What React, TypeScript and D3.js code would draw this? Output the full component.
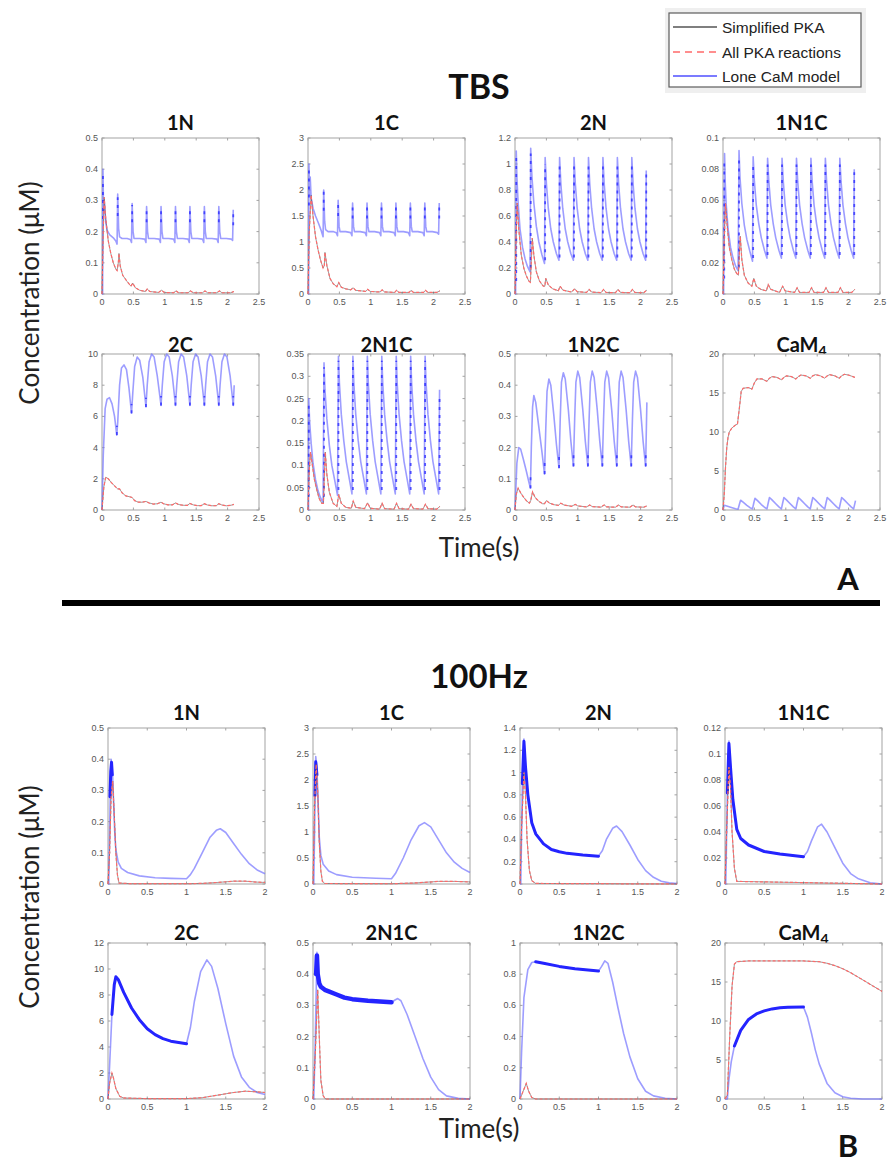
import React from 'react';
import * as d3 from 'd3';

type P = [number, number];
type Seg = [number, number, number];

// ---------------- tick labels ----------------
const TBS_X_TICKS = [0, 0.5, 1, 1.5, 2, 2.5];
const HZ_X_TICKS = [0, 0.5, 1, 1.5, 2];
const Y_1N = [0, 0.1, 0.2, 0.3, 0.4, 0.5];
const Y_1C = [0, 0.5, 1, 1.5, 2, 2.5, 3];
const Y_2N_TBS = [0, 0.2, 0.4, 0.6, 0.8, 1, 1.2];
const Y_2N_HZ = [0, 0.2, 0.4, 0.6, 0.8, 1, 1.2, 1.4];
const Y_1N1C_TBS = [0, 0.02, 0.04, 0.06, 0.08, 0.1];
const Y_1N1C_HZ = [0, 0.02, 0.04, 0.06, 0.08, 0.1, 0.12];
const Y_2C_TBS = [0, 2, 4, 6, 8, 10];
const Y_2C_HZ = [0, 2, 4, 6, 8, 10, 12];
const Y_2N1C_TBS = [0, 0.05, 0.1, 0.15, 0.2, 0.25, 0.3, 0.35];
const Y_2N1C_HZ = [0, 0.1, 0.2, 0.3, 0.4, 0.5];
const Y_1N2C_TBS = [0, 0.1, 0.2, 0.3, 0.4, 0.5];
const Y_1N2C_HZ = [0, 0.2, 0.4, 0.6, 0.8, 1];
const Y_CAM4 = [0, 5, 10, 15, 20];

const LEGEND_LABELS = ['Simplified PKA', 'All PKA reactions', 'Lone CaM model'];

// ---------------- TBS data ----------------
const tbs1N_blue: P[] = [
  [0,0],[0.01,0],[0.015,0.4],[0.025,0.26],[0.035,0.3],[0.045,0.27],[0.06,0.23],[0.08,0.205],[0.12,0.19],[0.18,0.18],[0.22,0.17],[0.24,0.16],
  [0.25,0.32],[0.265,0.21],[0.28,0.183],[0.32,0.178],[0.4,0.178],[0.45,0.175],[0.47,0.165],
  [0.48,0.29],[0.495,0.2],[0.51,0.178],[0.6,0.178],[0.68,0.176],[0.7,0.165],
  [0.71,0.28],[0.725,0.2],[0.74,0.178],[0.83,0.178],[0.91,0.176],[0.93,0.165],
  [0.94,0.28],[0.955,0.2],[0.97,0.178],[1.06,0.178],[1.14,0.176],[1.16,0.165],
  [1.17,0.28],[1.185,0.2],[1.2,0.178],[1.29,0.178],[1.37,0.176],[1.39,0.165],
  [1.4,0.28],[1.415,0.2],[1.43,0.178],[1.52,0.178],[1.6,0.176],[1.62,0.165],
  [1.63,0.28],[1.645,0.2],[1.66,0.178],[1.75,0.178],[1.83,0.176],[1.85,0.165],
  [1.86,0.28],[1.875,0.2],[1.89,0.178],[1.98,0.178],[2.06,0.176],[2.08,0.172],
  [2.09,0.27]];
const tbs1N_burst: Seg[] = [[0.015,0.24,0.39],[0.25,0.25,0.31],[0.48,0.23,0.285],[0.71,0.23,0.275],[0.94,0.23,0.275],[1.17,0.23,0.275],[1.4,0.23,0.275],[1.63,0.23,0.275],[1.86,0.23,0.275],[2.09,0.22,0.27]];
const tbs1N_pka: P[] = [
  [0,0],[0.02,0.2],[0.035,0.31],[0.06,0.24],[0.1,0.17],[0.14,0.13],[0.18,0.1],[0.22,0.08],[0.24,0.075],[0.26,0.1],[0.27,0.13],[0.29,0.09],[0.33,0.06],[0.4,0.04],[0.46,0.025],[0.49,0.035],[0.53,0.02],[0.6,0.012],[0.69,0.008],[0.72,0.016],[0.76,0.008],[0.9,0.005],[0.95,0.012],[0.99,0.005],[1.14,0.004],[1.18,0.01],[1.22,0.004],[1.37,0.004],[1.41,0.01],[1.45,0.004],[1.6,0.004],[1.64,0.01],[1.68,0.004],[1.83,0.004],[1.87,0.01],[1.91,0.004],[2.05,0.004],[2.1,0.008]];

const tbs1C_blue: P[] = [
  [0,0],[0.01,0],[0.015,2.5],[0.025,1.9],[0.035,2.25],[0.05,1.85],[0.08,1.65],[0.12,1.5],[0.17,1.35],[0.21,1.22],[0.24,1.1],
  [0.25,2.0],[0.265,1.4],[0.28,1.24],[0.32,1.2],[0.4,1.2],[0.45,1.18],[0.47,1.12],
  [0.48,1.8],[0.495,1.3],[0.51,1.2],[0.6,1.2],[0.68,1.18],[0.7,1.12],
  [0.71,1.75],[0.725,1.3],[0.74,1.2],[0.83,1.2],[0.91,1.18],[0.93,1.12],
  [0.94,1.75],[0.955,1.3],[0.97,1.2],[1.06,1.2],[1.14,1.18],[1.16,1.12],
  [1.17,1.75],[1.185,1.3],[1.2,1.2],[1.29,1.2],[1.37,1.18],[1.39,1.12],
  [1.4,1.75],[1.415,1.3],[1.43,1.2],[1.52,1.2],[1.6,1.18],[1.62,1.12],
  [1.63,1.75],[1.645,1.3],[1.66,1.2],[1.75,1.2],[1.83,1.18],[1.85,1.12],
  [1.86,1.75],[1.875,1.3],[1.89,1.2],[1.98,1.2],[2.06,1.18],[2.08,1.15],
  [2.09,1.75]];
const tbs1C_burst: Seg[] = [[0.015,1.7,2.4],[0.25,1.6,2.0],[0.48,1.5,1.8],[0.71,1.45,1.75],[0.94,1.45,1.75],[1.17,1.45,1.75],[1.4,1.45,1.75],[1.63,1.45,1.75],[1.86,1.45,1.75],[2.09,1.45,1.75]];
const tbs1C_pka: P[] = [
  [0,0],[0.02,1.2],[0.05,1.9],[0.08,1.5],[0.12,1.1],[0.16,0.85],[0.2,0.65],[0.24,0.5],[0.26,0.55],[0.27,0.8],[0.3,0.55],[0.35,0.3],[0.4,0.2],[0.46,0.14],[0.49,0.22],[0.53,0.13],[0.6,0.1],[0.68,0.08],[0.72,0.12],[0.76,0.07],[0.85,0.06],[0.92,0.05],[0.95,0.09],[0.99,0.05],[1.1,0.04],[1.15,0.04],[1.18,0.08],[1.22,0.04],[1.38,0.03],[1.41,0.07],[1.45,0.03],[1.61,0.03],[1.64,0.07],[1.68,0.03],[1.84,0.03],[1.87,0.07],[1.91,0.03],[2.05,0.03],[2.1,0.06]];

const tbs2N_blue: P[] = [
  [0,0],[0.01,0],[0.02,1.1],[0.03,0.9],[0.05,0.7],[0.08,0.5],[0.12,0.36],[0.16,0.27],[0.2,0.21],[0.24,0.17],
  [0.25,1.12],[0.27,0.9],[0.3,0.7],[0.34,0.52],[0.38,0.4],[0.43,0.3],[0.47,0.235],
  [0.48,1.05],[0.5,0.85],[0.53,0.66],[0.57,0.5],[0.61,0.4],[0.66,0.31],[0.7,0.26],
  [0.71,1.05],[0.73,0.85],[0.76,0.66],[0.8,0.5],[0.84,0.4],[0.89,0.31],[0.93,0.26],
  [0.94,1.05],[0.96,0.85],[0.99,0.66],[1.03,0.5],[1.07,0.4],[1.12,0.31],[1.16,0.26],
  [1.17,1.05],[1.19,0.85],[1.22,0.66],[1.26,0.5],[1.3,0.4],[1.35,0.31],[1.39,0.26],
  [1.4,1.05],[1.42,0.85],[1.45,0.66],[1.49,0.5],[1.53,0.4],[1.58,0.31],[1.62,0.26],
  [1.63,1.05],[1.65,0.85],[1.68,0.66],[1.72,0.5],[1.76,0.4],[1.81,0.31],[1.85,0.26],
  [1.86,1.05],[1.88,0.85],[1.91,0.66],[1.95,0.5],[1.99,0.4],[2.04,0.31],[2.08,0.26],
  [2.09,0.95]];
const tbs2N_burst: Seg[] = [[0.02,0.1,1.05],[0.25,0.2,1.08],[0.48,0.26,1.0],[0.71,0.28,1.0],[0.94,0.28,1.0],[1.17,0.28,1.0],[1.4,0.28,1.0],[1.63,0.28,1.0],[1.86,0.28,1.0],[2.09,0.28,0.92]];
const tbs2N_pka: P[] = [
  [0,0],[0.015,0.4],[0.035,0.7],[0.06,0.5],[0.1,0.3],[0.14,0.2],[0.18,0.14],[0.22,0.1],[0.245,0.09],[0.26,0.25],[0.275,0.43],[0.3,0.3],[0.34,0.17],[0.39,0.1],[0.45,0.06],[0.475,0.06],[0.49,0.12],[0.53,0.07],[0.6,0.04],[0.69,0.025],[0.72,0.06],[0.76,0.03],[0.9,0.015],[0.95,0.04],[0.99,0.018],[1.14,0.012],[1.18,0.035],[1.22,0.015],[1.37,0.01],[1.41,0.035],[1.45,0.012],[1.6,0.01],[1.64,0.035],[1.68,0.012],[1.83,0.01],[1.87,0.035],[1.91,0.012],[2.05,0.01],[2.1,0.03]];

const tbs1N1C_blue: P[] = [
  [0,0],[0.01,0],[0.025,0.09],[0.035,0.072],[0.05,0.058],[0.08,0.042],[0.12,0.03],[0.16,0.023],[0.2,0.018],[0.24,0.015],
  [0.255,0.092],[0.27,0.075],[0.3,0.058],[0.34,0.044],[0.38,0.035],[0.43,0.027],[0.47,0.021],
  [0.48,0.088],[0.5,0.072],[0.53,0.057],[0.57,0.045],[0.61,0.036],[0.66,0.028],[0.7,0.023],
  [0.71,0.087],[0.73,0.072],[0.76,0.057],[0.8,0.045],[0.84,0.036],[0.89,0.028],[0.93,0.023],
  [0.94,0.087],[0.96,0.072],[0.99,0.057],[1.03,0.045],[1.07,0.036],[1.12,0.028],[1.16,0.023],
  [1.17,0.087],[1.19,0.072],[1.22,0.057],[1.26,0.045],[1.3,0.036],[1.35,0.028],[1.39,0.023],
  [1.4,0.087],[1.42,0.072],[1.45,0.057],[1.49,0.045],[1.53,0.036],[1.58,0.028],[1.62,0.023],
  [1.63,0.087],[1.65,0.072],[1.68,0.057],[1.72,0.045],[1.76,0.036],[1.81,0.028],[1.85,0.023],
  [1.86,0.087],[1.88,0.072],[1.91,0.057],[1.95,0.045],[1.99,0.036],[2.04,0.028],[2.08,0.023],
  [2.09,0.08]];
const tbs1N1C_burst: Seg[] = [[0.02,0.01,0.085],[0.255,0.017,0.088],[0.48,0.023,0.084],[0.71,0.025,0.083],[0.94,0.025,0.083],[1.17,0.025,0.083],[1.4,0.025,0.083],[1.63,0.025,0.083],[1.86,0.025,0.083],[2.09,0.025,0.078]];
const tbs1N1C_pka: P[] = [
  [0,0],[0.02,0.035],[0.04,0.058],[0.07,0.042],[0.1,0.03],[0.14,0.022],[0.18,0.016],[0.22,0.013],[0.245,0.012],[0.26,0.025],[0.275,0.037],[0.3,0.022],[0.34,0.012],[0.4,0.007],[0.46,0.005],[0.49,0.01],[0.53,0.005],[0.6,0.003],[0.69,0.002],[0.72,0.006],[0.76,0.003],[0.9,0.001],[0.95,0.005],[0.99,0.002],[1.14,0.001],[1.18,0.004],[1.22,0.001],[1.37,0.001],[1.41,0.004],[1.45,0.001],[1.6,0.001],[1.64,0.004],[1.68,0.001],[1.83,0.001],[1.87,0.004],[1.91,0.001],[2.05,0.001],[2.1,0.003]];

const tbs2C_blue: P[] = [
  [0,0],[0.02,3.5],[0.05,6.5],[0.08,7.1],[0.12,7.2],[0.16,6.8],[0.2,6.0],[0.235,4.8],
  [0.25,5.6],[0.28,8.0],[0.31,9.1],[0.35,9.3],[0.39,9.0],[0.43,7.8],[0.47,6.2],
  [0.49,7.5],[0.52,9.2],[0.56,9.8],[0.6,9.6],[0.65,8.5],[0.7,6.6],
  [0.72,8.0],[0.75,9.5],[0.79,10.0],[0.83,9.8],[0.88,8.6],[0.94,6.7],
  [0.96,8.0],[0.99,9.5],[1.03,10.0],[1.07,9.8],[1.12,8.6],[1.17,6.7],
  [1.19,8.0],[1.22,9.5],[1.26,10.0],[1.3,9.8],[1.35,8.6],[1.4,6.7],
  [1.42,8.0],[1.45,9.5],[1.49,10.0],[1.53,9.8],[1.58,8.6],[1.63,6.7],
  [1.65,8.0],[1.68,9.5],[1.72,10.0],[1.76,9.8],[1.81,8.6],[1.86,6.7],
  [1.88,8.0],[1.91,9.5],[1.95,10.0],[1.99,9.8],[2.04,8.6],[2.09,6.7],
  [2.105,8.0]];
const tbs2C_burst: Seg[] = [[0.237,4.8,5.4],[0.47,6.2,6.8],[0.7,6.6,7.2],[0.94,6.7,7.3],[1.17,6.7,7.3],[1.4,6.7,7.3],[1.63,6.7,7.3],[1.86,6.7,7.3],[2.09,6.7,7.3]];
const tbs2C_pka: P[] = [
  [0,0],[0.03,1.5],[0.06,2.1],[0.1,2.0],[0.15,1.75],[0.2,1.55],[0.25,1.35],[0.28,1.35],[0.32,1.1],[0.38,0.9],[0.44,0.85],[0.48,0.8],[0.52,0.6],[0.58,0.5],[0.64,0.5],[0.7,0.55],[0.75,0.45],[0.82,0.38],[0.88,0.4],[0.94,0.5],[0.98,0.4],[1.05,0.33],[1.12,0.33],[1.17,0.45],[1.22,0.35],[1.3,0.3],[1.36,0.3],[1.4,0.42],[1.45,0.33],[1.52,0.28],[1.58,0.28],[1.63,0.4],[1.68,0.32],[1.75,0.27],[1.82,0.28],[1.86,0.4],[1.91,0.32],[1.98,0.27],[2.05,0.3],[2.1,0.36]];

const tbs2N1C_blue: P[] = [
  [0,0],[0.008,0],[0.012,0.25],[0.025,0.2],[0.05,0.15],[0.08,0.105],[0.12,0.068],[0.16,0.043],[0.2,0.027],[0.24,0.016],
  [0.255,0.33],[0.27,0.27],[0.3,0.205],[0.34,0.145],[0.38,0.1],[0.43,0.063],[0.47,0.033],
  [0.485,0.345],[0.5,0.285],[0.53,0.215],[0.57,0.155],[0.61,0.108],[0.66,0.068],[0.7,0.036],
  [0.715,0.345],[0.73,0.285],[0.76,0.215],[0.8,0.155],[0.84,0.108],[0.89,0.068],[0.93,0.036],
  [0.945,0.345],[0.96,0.285],[0.99,0.215],[1.03,0.155],[1.07,0.108],[1.12,0.068],[1.16,0.036],
  [1.175,0.345],[1.19,0.285],[1.22,0.215],[1.26,0.155],[1.3,0.108],[1.35,0.068],[1.39,0.036],
  [1.405,0.345],[1.42,0.285],[1.45,0.215],[1.49,0.155],[1.53,0.108],[1.58,0.068],[1.62,0.036],
  [1.635,0.345],[1.65,0.285],[1.68,0.215],[1.72,0.155],[1.76,0.108],[1.81,0.068],[1.85,0.036],
  [1.865,0.345],[1.88,0.285],[1.91,0.215],[1.95,0.155],[1.99,0.108],[2.04,0.068],[2.08,0.036],
  [2.095,0.27]];
const tbs2N1C_burst: Seg[] = [[0.012,0.03,0.24],[0.255,0.03,0.32],[0.485,0.045,0.335],[0.715,0.045,0.335],[0.945,0.045,0.335],[1.175,0.045,0.335],[1.405,0.045,0.335],[1.635,0.045,0.335],[1.865,0.045,0.335],[2.095,0.045,0.26]];
const tbs2N1C_pka: P[] = [
  [0,0],[0.02,0.09],[0.04,0.13],[0.07,0.1],[0.1,0.07],[0.14,0.045],[0.18,0.025],[0.22,0.015],[0.245,0.015],[0.26,0.07],[0.275,0.13],[0.3,0.08],[0.34,0.04],[0.4,0.015],[0.46,0.008],[0.49,0.035],[0.53,0.015],[0.6,0.006],[0.69,0.004],[0.72,0.02],[0.76,0.006],[0.9,0.003],[0.95,0.016],[0.99,0.004],[1.14,0.002],[1.18,0.015],[1.22,0.003],[1.37,0.002],[1.41,0.015],[1.45,0.003],[1.6,0.002],[1.64,0.013],[1.68,0.003],[1.83,0.002],[1.87,0.013],[1.91,0.003],[2.05,0.002],[2.1,0.008]];

const tbs1N2C_blue: P[] = [
  [0,0],[0.03,0.15],[0.06,0.2],[0.09,0.195],[0.13,0.165],[0.18,0.125],[0.22,0.09],[0.245,0.07],
  [0.26,0.2],[0.28,0.33],[0.3,0.367],[0.33,0.345],[0.38,0.265],[0.43,0.185],[0.47,0.115],
  [0.49,0.26],[0.51,0.38],[0.54,0.42],[0.57,0.4],[0.62,0.3],[0.66,0.21],[0.7,0.135],
  [0.72,0.29],[0.74,0.41],[0.77,0.44],[0.8,0.42],[0.85,0.32],[0.89,0.22],[0.93,0.14],
  [0.95,0.29],[0.97,0.41],[1.0,0.445],[1.03,0.425],[1.08,0.32],[1.12,0.22],[1.16,0.14],
  [1.18,0.29],[1.2,0.41],[1.23,0.445],[1.26,0.425],[1.31,0.32],[1.35,0.22],[1.39,0.14],
  [1.41,0.29],[1.43,0.41],[1.46,0.445],[1.49,0.425],[1.54,0.32],[1.58,0.22],[1.62,0.14],
  [1.64,0.29],[1.66,0.41],[1.69,0.445],[1.72,0.425],[1.77,0.32],[1.81,0.22],[1.85,0.14],
  [1.87,0.29],[1.89,0.41],[1.92,0.445],[1.95,0.425],[2.0,0.32],[2.04,0.22],[2.08,0.14],
  [2.1,0.345]];
const tbs1N2C_burst: Seg[] = [[0.247,0.07,0.11],[0.472,0.115,0.16],[0.702,0.135,0.18],[0.932,0.14,0.185],[1.162,0.14,0.185],[1.392,0.14,0.185],[1.622,0.14,0.185],[1.852,0.14,0.185],[2.082,0.14,0.185]];
const tbs1N2C_pka: P[] = [
  [0,0],[0.02,0.05],[0.05,0.07],[0.09,0.055],[0.14,0.04],[0.19,0.028],[0.23,0.022],[0.25,0.03],[0.28,0.058],[0.32,0.04],[0.38,0.028],[0.44,0.02],[0.47,0.02],[0.5,0.03],[0.55,0.022],[0.62,0.017],[0.69,0.015],[0.73,0.022],[0.78,0.016],[0.9,0.012],[0.96,0.018],[1.0,0.013],[1.14,0.01],[1.19,0.016],[1.23,0.011],[1.37,0.009],[1.42,0.016],[1.46,0.01],[1.6,0.009],[1.65,0.016],[1.69,0.01],[1.83,0.009],[1.88,0.016],[1.92,0.01],[2.05,0.009],[2.1,0.013]];

const tbsCaM4_blue: P[] = [
  [0,0],[0.02,0.6],[0.06,0.5],[0.12,0.35],[0.2,0.15],[0.24,0.1],
  [0.26,0.7],[0.28,1.25],[0.32,1.0],[0.38,0.6],[0.43,0.3],[0.47,0.15],
  [0.49,0.9],[0.51,1.5],[0.55,1.2],[0.61,0.7],[0.66,0.35],[0.7,0.15],
  [0.72,0.9],[0.74,1.6],[0.78,1.3],[0.84,0.8],[0.89,0.4],[0.93,0.15],
  [0.95,0.9],[0.97,1.6],[1.01,1.3],[1.07,0.8],[1.12,0.4],[1.16,0.15],
  [1.18,0.9],[1.2,1.6],[1.24,1.3],[1.3,0.8],[1.35,0.4],[1.39,0.15],
  [1.41,0.9],[1.43,1.6],[1.47,1.3],[1.53,0.8],[1.58,0.4],[1.62,0.15],
  [1.64,0.9],[1.66,1.6],[1.7,1.3],[1.76,0.8],[1.81,0.4],[1.85,0.15],
  [1.87,0.9],[1.89,1.6],[1.93,1.3],[1.99,0.8],[2.04,0.4],[2.08,0.15],
  [2.11,1.2]];
const tbsCaM4_pka: P[] = [
  [0,0],[0.02,2],[0.04,5.5],[0.06,8],[0.08,9.3],[0.1,10],[0.14,10.5],[0.2,10.9],[0.23,11],[0.26,13],[0.29,15.2],[0.32,15.6],[0.4,15.7],[0.46,15.5],[0.5,16.3],[0.54,16.8],[0.62,16.8],[0.7,16.5],[0.74,16.9],[0.78,17.1],[0.86,17.0],[0.93,16.7],[0.97,17.0],[1.01,17.2],[1.09,17.1],[1.16,16.8],[1.2,17.1],[1.24,17.3],[1.32,17.2],[1.39,16.9],[1.43,17.2],[1.47,17.35],[1.55,17.2],[1.62,16.9],[1.66,17.2],[1.7,17.35],[1.78,17.2],[1.85,16.9],[1.89,17.2],[1.93,17.4],[2.0,17.3],[2.1,17.0]];

// ---------------- 100 Hz data ----------------
const hz1N_blue: P[] = [[0,0],[0.01,0],[0.02,0.17],[0.03,0.3],[0.04,0.4],[0.05,0.37],[0.06,0.34],[0.07,0.27],[0.085,0.17],[0.1,0.11],[0.13,0.07],[0.17,0.05],[0.25,0.037],[0.4,0.026],[0.6,0.02],[0.8,0.018],[1.0,0.017],[1.05,0.03],[1.1,0.05],[1.2,0.1],[1.3,0.15],[1.38,0.172],[1.43,0.177],[1.5,0.165],[1.6,0.13],[1.7,0.095],[1.8,0.065],[1.9,0.045],[2.0,0.033]];
const hz1N_band: P[] = [[0.025,0.28],[0.035,0.36],[0.045,0.39],[0.055,0.35]];
const hz1N_pka: P[] = [[0,0],[0.02,0.1],[0.04,0.28],[0.06,0.33],[0.08,0.22],[0.1,0.1],[0.12,0.03],[0.14,0.003],[0.3,0.001],[1.0,0.001],[1.2,0.002],[1.4,0.005],[1.6,0.009],[1.75,0.009],[1.9,0.006],[2.0,0.005]];

const hz1C_blue: P[] = [[0,0],[0.01,0],[0.02,1.0],[0.035,2.45],[0.05,2.2],[0.06,1.8],[0.08,0.9],[0.1,0.55],[0.13,0.38],[0.2,0.25],[0.3,0.18],[0.5,0.13],[0.8,0.11],[1.0,0.1],[1.05,0.2],[1.15,0.5],[1.25,0.85],[1.35,1.12],[1.42,1.18],[1.5,1.1],[1.6,0.85],[1.7,0.6],[1.8,0.42],[1.9,0.3],[2.0,0.22]];
const hz1C_band: P[] = [[0.025,1.7],[0.035,2.35],[0.05,2.1]];
const hz1C_pka: P[] = [[0,0],[0.02,1.5],[0.04,2.3],[0.06,1.8],[0.08,0.8],[0.1,0.25],[0.12,0.05],[0.15,0.01],[1.0,0.005],[1.3,0.02],[1.6,0.05],[1.8,0.05],[2.0,0.04]];

const hz2N_blue: P[] = [[0,0],[0.01,0],[0.03,0.9],[0.05,1.3],[0.07,1.05],[0.1,0.8],[0.15,0.55],[0.2,0.45],[0.3,0.36],[0.4,0.31],[0.5,0.29],[0.6,0.275],[0.8,0.26],[1.0,0.25],[1.05,0.3],[1.1,0.4],[1.18,0.5],[1.23,0.52],[1.3,0.47],[1.4,0.35],[1.5,0.22],[1.6,0.12],[1.7,0.06],[1.8,0.025],[1.9,0.01],[2.0,0.005]];
const hz2N_band: P[] = [[0.03,0.9],[0.05,1.28],[0.07,1.05],[0.1,0.8],[0.15,0.55],[0.2,0.45],[0.3,0.36],[0.4,0.31],[0.5,0.29],[0.6,0.275],[0.8,0.26],[1.0,0.25]];
const hz2N_pka: P[] = [[0,0],[0.02,0.5],[0.05,1.0],[0.07,0.8],[0.09,0.4],[0.12,0.12],[0.15,0.03],[0.2,0.005],[2.0,0]];

const hz1N1C_blue: P[] = [[0,0],[0.01,0],[0.03,0.07],[0.05,0.11],[0.07,0.09],[0.1,0.065],[0.15,0.042],[0.2,0.035],[0.3,0.03],[0.5,0.025],[0.7,0.023],[1.0,0.021],[1.05,0.025],[1.1,0.033],[1.18,0.044],[1.23,0.046],[1.3,0.04],[1.4,0.028],[1.5,0.016],[1.6,0.008],[1.7,0.004],[1.85,0.001],[2.0,0]];
const hz1N1C_band: P[] = [[0.03,0.07],[0.05,0.108],[0.07,0.09],[0.1,0.065],[0.15,0.042],[0.2,0.035],[0.3,0.03],[0.5,0.025],[0.7,0.023],[1.0,0.021]];
const hz1N1C_pka: P[] = [[0,0],[0.02,0.04],[0.05,0.09],[0.07,0.075],[0.09,0.04],[0.12,0.012],[0.15,0.002],[2.0,0]];

const hz2C_blue: P[] = [[0,0],[0.02,2.5],[0.05,6.5],[0.08,8.8],[0.1,9.4],[0.13,9.2],[0.2,8.2],[0.3,7.0],[0.4,6.1],[0.5,5.4],[0.6,4.95],[0.7,4.65],[0.8,4.45],[0.9,4.35],[1.0,4.25],[1.05,5.5],[1.1,7.5],[1.18,9.8],[1.26,10.7],[1.32,10.2],[1.4,8.5],[1.5,5.8],[1.6,3.3],[1.7,1.7],[1.8,0.9],[1.9,0.5],[2.0,0.35]];
const hz2C_band: P[] = [[0.05,6.5],[0.08,8.8],[0.1,9.4],[0.13,9.2],[0.2,8.2],[0.3,7.0],[0.4,6.1],[0.5,5.4],[0.6,4.95],[0.7,4.65],[0.8,4.45],[0.9,4.35],[1.0,4.25]];
const hz2C_pka: P[] = [[0,0],[0.02,1.2],[0.05,2.0],[0.07,1.6],[0.1,0.8],[0.15,0.2],[0.2,0.08],[0.5,0.03],[1.0,0.03],[1.2,0.1],[1.4,0.3],[1.6,0.5],[1.75,0.6],[1.9,0.55],[2.0,0.5]];

const hz2N1C_blue: P[] = [[0,0],[0.01,0],[0.03,0.2],[0.05,0.47],[0.06,0.4],[0.08,0.37],[0.1,0.36],[0.15,0.35],[0.2,0.345],[0.3,0.335],[0.4,0.325],[0.5,0.32],[0.7,0.315],[1.0,0.31],[1.05,0.318],[1.08,0.322],[1.12,0.315],[1.2,0.27],[1.3,0.2],[1.4,0.13],[1.5,0.07],[1.6,0.03],[1.7,0.01],[1.85,0.002],[2.0,0]];
const hz2N1C_band: P[] = [[0.04,0.4],[0.05,0.46],[0.06,0.4],[0.08,0.37],[0.1,0.36],[0.15,0.35],[0.2,0.345],[0.3,0.335],[0.4,0.325],[0.5,0.32],[0.7,0.315],[1.0,0.31]];
const hz2N1C_pka: P[] = [[0,0],[0.03,0.15],[0.06,0.35],[0.08,0.2],[0.1,0.06],[0.13,0.01],[0.16,0],[2.0,0]];

const hz1N2C_blue: P[] = [[0,0],[0.02,0.3],[0.05,0.65],[0.1,0.83],[0.15,0.875],[0.2,0.88],[0.3,0.87],[0.5,0.85],[0.7,0.835],[1.0,0.82],[1.04,0.85],[1.08,0.885],[1.12,0.87],[1.18,0.75],[1.25,0.58],[1.32,0.42],[1.4,0.27],[1.5,0.13],[1.6,0.05],[1.7,0.02],[1.85,0.005],[2.0,0]];
const hz1N2C_band: P[] = [[0.2,0.88],[0.3,0.87],[0.5,0.85],[0.7,0.835],[1.0,0.82]];
const hz1N2C_pka: P[] = [[0,0],[0.04,0.05],[0.08,0.1],[0.11,0.05],[0.15,0.01],[0.2,0],[2.0,0]];

const hzCaM4_blue: P[] = [[0,0],[0.03,0],[0.05,2.5],[0.08,4.8],[0.12,6.8],[0.2,8.8],[0.3,10.2],[0.4,10.9],[0.5,11.3],[0.6,11.55],[0.7,11.7],[0.8,11.75],[1.0,11.8],[1.05,10.5],[1.1,8.5],[1.15,6.3],[1.2,4.5],[1.3,2.0],[1.4,0.8],[1.5,0.3],[1.6,0.1],[1.75,0],[2.0,0]];
const hzCaM4_band: P[] = [[0.12,6.8],[0.2,8.8],[0.3,10.2],[0.4,10.9],[0.5,11.3],[0.6,11.55],[0.7,11.7],[0.8,11.75],[1.0,11.8]];
const hzCaM4_pka: P[] = [[0,0],[0.03,0.5],[0.06,8],[0.09,14.5],[0.12,17.3],[0.15,17.6],[0.3,17.7],[0.6,17.7],[1.0,17.7],[1.2,17.6],[1.3,17.4],[1.4,17.1],[1.5,16.7],[1.6,16.2],[1.7,15.6],[1.8,15.0],[1.9,14.4],[2.0,13.8]];

// ---------------- layout ----------------
const TBS_COLS = [102, 308, 515, 723];
const TBS_ROWS = [138, 354];
const HZ_COLS = [108, 313, 520, 725];
const HZ_ROWS = [728, 943];
const PW = 157;
const PH = 156;

interface Panel {
  title: string;
  sub?: string;
  blue: P[];
  pka: P[];
  bursts?: Seg[];
  band?: P[];
  bandW?: number;
  yTicks: number[];
  xTicks: number[];
  x: number;
  y: number;
  titleY: number;
}

const tbsDefs = [
  { title: '1N', blue: tbs1N_blue, pka: tbs1N_pka, bursts: tbs1N_burst, yTicks: Y_1N },
  { title: '1C', blue: tbs1C_blue, pka: tbs1C_pka, bursts: tbs1C_burst, yTicks: Y_1C },
  { title: '2N', blue: tbs2N_blue, pka: tbs2N_pka, bursts: tbs2N_burst, yTicks: Y_2N_TBS },
  { title: '1N1C', blue: tbs1N1C_blue, pka: tbs1N1C_pka, bursts: tbs1N1C_burst, yTicks: Y_1N1C_TBS },
  { title: '2C', blue: tbs2C_blue, pka: tbs2C_pka, bursts: tbs2C_burst, yTicks: Y_2C_TBS },
  { title: '2N1C', blue: tbs2N1C_blue, pka: tbs2N1C_pka, bursts: tbs2N1C_burst, yTicks: Y_2N1C_TBS },
  { title: '1N2C', blue: tbs1N2C_blue, pka: tbs1N2C_pka, bursts: tbs1N2C_burst, yTicks: Y_1N2C_TBS },
  { title: 'CaM', sub: '4', blue: tbsCaM4_blue, pka: tbsCaM4_pka, yTicks: Y_CAM4 },
];
const hzDefs = [
  { title: '1N', blue: hz1N_blue, pka: hz1N_pka, band: hz1N_band, yTicks: Y_1N },
  { title: '1C', blue: hz1C_blue, pka: hz1C_pka, band: hz1C_band, yTicks: Y_1C },
  { title: '2N', blue: hz2N_blue, pka: hz2N_pka, band: hz2N_band, yTicks: Y_2N_HZ },
  { title: '1N1C', blue: hz1N1C_blue, pka: hz1N1C_pka, band: hz1N1C_band, yTicks: Y_1N1C_HZ },
  { title: '2C', blue: hz2C_blue, pka: hz2C_pka, band: hz2C_band, yTicks: Y_2C_HZ },
  { title: '2N1C', blue: hz2N1C_blue, pka: hz2N1C_pka, band: hz2N1C_band, bandW: 4.5, yTicks: Y_2N1C_HZ },
  { title: '1N2C', blue: hz1N2C_blue, pka: hz1N2C_pka, band: hz1N2C_band, yTicks: Y_1N2C_HZ },
  { title: 'CaM', sub: '4', blue: hzCaM4_blue, pka: hzCaM4_pka, band: hzCaM4_band, yTicks: Y_CAM4 },
];

const TBS_TITLE_Y = [130, 352];
const HZ_TITLE_Y = [720, 940];

const panels: Panel[] = [
  ...tbsDefs.map((d, i) => ({ ...d, xTicks: TBS_X_TICKS, x: TBS_COLS[i % 4], y: TBS_ROWS[Math.floor(i / 4)], titleY: TBS_TITLE_Y[Math.floor(i / 4)] })),
  ...hzDefs.map((d, i) => ({ ...d, xTicks: HZ_X_TICKS, x: HZ_COLS[i % 4], y: HZ_ROWS[Math.floor(i / 4)], titleY: HZ_TITLE_Y[Math.floor(i / 4)] })),
];

const BLUE_LIGHT = '#7474ff';
const BLUE_DARK = '#2424ff';
const RED = '#ff6a6a';
const GRAY = '#555';
const AXIS = '#a3a3a3';
const TICKTXT = '#555';
const fmt = (v: number) => String(+v.toFixed(3));

function PanelView({ p }: { p: Panel }) {
  const xMax = p.xTicks[p.xTicks.length - 1];
  const yMax = p.yTicks[p.yTicks.length - 1];
  const xs = d3.scaleLinear().domain([0, xMax]).range([p.x, p.x + PW]);
  const ys = d3.scaleLinear().domain([0, yMax]).range([p.y + PH, p.y]);
  const line = d3.line<P>().x((d) => xs(d[0])).y((d) => ys(d[1]));
  const tl = 2.5;
  return (
    <g>
      <text x={p.x + PW / 2} y={p.titleY} textAnchor="middle" fontFamily="Lato, 'Open Sans', sans-serif" fontWeight={700} fontSize={20} fill="#111">
        {p.title}
        {p.sub && <tspan fontSize={14} dy={4}>{p.sub}</tspan>}
      </text>
      <rect x={p.x} y={p.y} width={PW} height={PH} fill="#fff" stroke={AXIS} strokeWidth={1} />
      {p.xTicks.map((t) => (
        <g key={'x' + t}>
          <line x1={xs(t)} x2={xs(t)} y1={p.y + PH} y2={p.y + PH - tl} stroke={AXIS} />
          <line x1={xs(t)} x2={xs(t)} y1={p.y} y2={p.y + tl} stroke={AXIS} />
          <text x={xs(t)} y={p.y + PH + 11} textAnchor="middle" fontSize={9} fontFamily="'Liberation Sans', Arial, sans-serif" fill={TICKTXT}>{fmt(t)}</text>
        </g>
      ))}
      {p.yTicks.map((t) => (
        <g key={'y' + t}>
          <line x1={p.x} x2={p.x + tl} y1={ys(t)} y2={ys(t)} stroke={AXIS} />
          <line x1={p.x + PW} x2={p.x + PW - tl} y1={ys(t)} y2={ys(t)} stroke={AXIS} />
          <text x={p.x - 4} y={ys(t) + 3} textAnchor="end" fontSize={9} fontFamily="'Liberation Sans', Arial, sans-serif" fill={TICKTXT}>{fmt(t)}</text>
        </g>
      ))}
      <path d={line(p.blue) || ''} fill="none" stroke={BLUE_LIGHT} strokeOpacity={0.7} strokeWidth={1.6} strokeLinejoin="round" />
      {p.bursts && p.bursts.map((b, i) => (
        <line key={'b' + i} x1={xs(b[0])} x2={xs(b[0])} y1={ys(b[1])} y2={ys(b[2])} stroke={BLUE_DARK} strokeOpacity={0.75} strokeWidth={1.8} strokeDasharray="3,5" />
      ))}
      {p.band && <path d={line(p.band) || ''} fill="none" stroke={BLUE_DARK} strokeWidth={p.bandW || 3} strokeLinecap="round" strokeLinejoin="round" />}
      <path d={line(p.pka) || ''} fill="none" stroke={GRAY} strokeOpacity={0.65} strokeWidth={0.9} />
      <path d={line(p.pka) || ''} fill="none" stroke={RED} strokeWidth={1.2} strokeDasharray="3,2" />
    </g>
  );
}

export default function App() {
  const legendY = [27, 52, 76];
  const legendStyles = [
    { stroke: GRAY, dash: undefined as string | undefined },
    { stroke: RED, dash: '7,5' },
    { stroke: '#4f4fff', dash: undefined },
  ];
  return (
    <svg width={887} height={1165} style={{ position: 'absolute', left: 0, top: 0, background: '#fff' }}>
      <rect x={0} y={0} width={887} height={1165} fill="#fff" />
      {/* legend */}
      <rect x={665} y={8} width={201} height={85} fill="#efefef" />
      <rect x={669} y={13} width={192} height={74} fill="#fff" stroke="#5c5c5c" strokeWidth={1.2} />
      {LEGEND_LABELS.map((lab, i) => (
        <g key={lab}>
          <line x1={673} x2={717} y1={legendY[i]} y2={legendY[i]} stroke={legendStyles[i].stroke} strokeWidth={1.3} strokeDasharray={legendStyles[i].dash} />
          <text x={722} y={legendY[i] + 5.5} fontSize={15.5} fontFamily="'Liberation Sans', Arial, sans-serif" fill="#222">{lab}</text>
        </g>
      ))}
      {/* section headings */}
      <text x={479} y={99} textAnchor="middle" fontFamily="Lato, sans-serif" fontWeight={700} fontSize={34} fill="#111">TBS</text>
      <text x={479} y={688} textAnchor="middle" fontFamily="Lato, sans-serif" fontWeight={700} fontSize={33} fill="#111">100Hz</text>
      {panels.map((p, i) => <PanelView key={i} p={p} />)}
      {/* axis labels */}
      <text transform="translate(39,293) rotate(-90)" textAnchor="middle" fontFamily="Lato, sans-serif" fontSize={26} fill="#222">Concentration (μM)</text>
      <text transform="translate(39,897) rotate(-90)" textAnchor="middle" fontFamily="Lato, sans-serif" fontSize={26} fill="#222">Concentration (μM)</text>
      <text x={479} y={557} textAnchor="middle" fontFamily="Lato, sans-serif" fontSize={26} fill="#222">Time(s)</text>
      <text x={479} y={1138} textAnchor="middle" fontFamily="Lato, sans-serif" fontSize={26} fill="#222">Time(s)</text>
      <text x={848} y={590} textAnchor="middle" fontFamily="Lato, sans-serif" fontWeight={700} fontSize={31} fill="#111">A</text>
      <text x={848} y={1157} textAnchor="middle" fontFamily="Lato, sans-serif" fontWeight={700} fontSize={31} fill="#111">B</text>
      <line x1={62} x2={880} y1={603} y2={603} stroke="#000" strokeWidth={6} />
    </svg>
  );
}
